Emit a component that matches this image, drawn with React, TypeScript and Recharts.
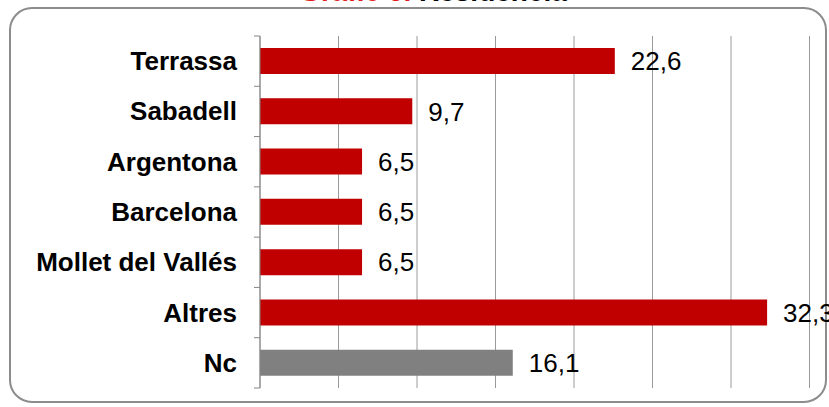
import { BarChart, Bar, XAxis, YAxis, CartesianGrid, Cell, LabelList } from 'recharts';

const categories = ['Terrassa', 'Sabadell', 'Argentona', 'Barcelona', 'Mollet del Vallés', 'Altres', 'Nc'];
const values = [22.6, 9.7, 6.5, 6.5, 6.5, 32.3, 16.1];
const xTicks = [0, 5, 10, 15, 20, 25, 30, 35];

const data = categories.map((name, i) => ({ name, value: values[i] }));

const FONT = '"Liberation Sans", Arial, sans-serif';
const RED = '#C00000';
const GREY = '#808080';
const AXIS = '#868686';

function CategoryTick(props: any) {
  const { x, y, payload, index, visibleTicksCount } = props;
  const half = payload?.offset ?? 25;
  const axisX = x + 23;
  const last = index === (visibleTicksCount ?? categories.length) - 1;
  return (
    <g>
      <line x1={axisX - 6} x2={axisX} y1={y - half} y2={y - half} stroke={AXIS} strokeWidth={1} />
      {last && <line x1={axisX - 6} x2={axisX} y1={y + half} y2={y + half} stroke={AXIS} strokeWidth={1} />}
      <text x={x} y={y} dy={9} textAnchor="end" fontFamily={FONT} fontSize={26} fontWeight="bold" fill="#000">
        {payload.value}
      </text>
    </g>
  );
}

export default function App() {
  return (
    <div style={{ position: 'absolute', left: 0, top: 0, width: 829, height: 407, background: '#fff' }}>
      <svg width={829} height={407} style={{ position: 'absolute', left: 0, top: 0 }}>
        <rect x={10} y={8} width={816} height={394} rx={22} ry={22} fill="#fff" stroke="#8c8c8c" strokeWidth={2} />
        <text x={433} y={1} textAnchor="middle" fontFamily={FONT} fontSize={28} fontWeight="bold">
          <tspan fill="#E31B1B">Gràfic 6.</tspan>
          <tspan fill="#000"> Residència</tspan>
        </text>
      </svg>
      <div style={{ position: 'absolute', left: 0, top: 0 }}>
        <BarChart
          width={829}
          height={407}
          data={data}
          layout="vertical"
          margin={{ top: 36, right: 19.5, bottom: 19, left: 0 }}
          barSize={26}
        >
          <CartesianGrid horizontal={false} vertical={true} stroke="#9a9a9a" strokeWidth={1} />
          <XAxis type="number" domain={[0, 35]} ticks={xTicks} hide />
          <YAxis
            type="category"
            dataKey="name"
            width={260}
            axisLine={{ stroke: AXIS, strokeWidth: 1 }}
            tickLine={false}
            tickSize={6}
            tickMargin={17}
            tick={<CategoryTick />}
            interval={0}
          />
          <Bar dataKey="value" isAnimationActive={false}>
            {data.map((d) => (
              <Cell key={d.name} fill={d.name === 'Nc' ? GREY : RED} />
            ))}
            <LabelList
              dataKey="value"
              position="right"
              offset={16}
              fontFamily={FONT}
              fontSize={26}
              fill="#000"
              formatter={(v: any) => String(v).replace('.', ',')}
            />
          </Bar>
        </BarChart>
      </div>
    </div>
  );
}
